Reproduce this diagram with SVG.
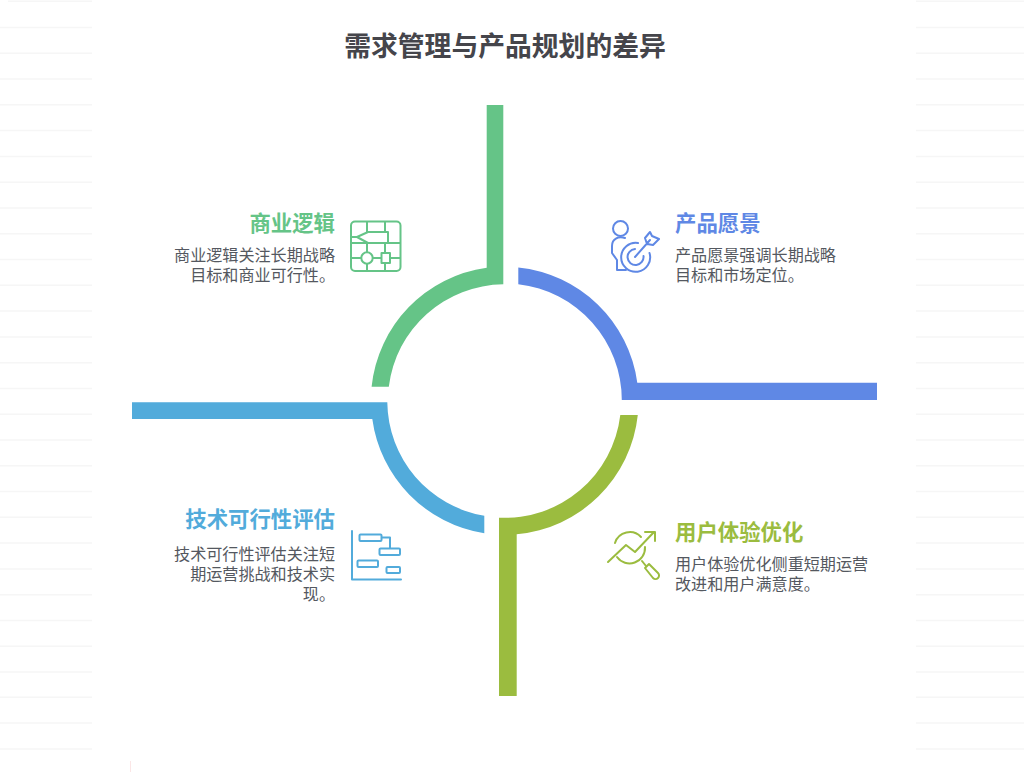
<svg xmlns="http://www.w3.org/2000/svg" width="1024" height="772" viewBox="0 0 1024 772">
<style>
text{font-family:"Noto Sans CJK SC","Noto Sans",sans-serif}
.t{font-size:26.8px;font-weight:700;fill:#45454b}
.h{font-size:21.4px;font-weight:700}
.b{font-size:16.1px;fill:#545860}
.e{text-anchor:end}
.bg{stroke:#f6f6f6;stroke-width:1.5;fill:none}
.ic{fill:none;stroke-width:2;stroke-linecap:round;stroke-linejoin:round}
.g{fill:#65c487}.bl{fill:#5f88e5}.li{fill:#9bbc3f}.cy{fill:#52abdb}
</style>
<rect width="1024" height="772" fill="#fff"/>
<path class="bg" d="M0 27.5H92M0 53.3H92M0 79H92M0 104.8H92M0 130.6H92M0 156.4H92M0 182.2H92M0 208H92M0 233.7H92M0 259.5H92M0 285.3H92M0 311H92M0 336.9H92M0 362.7H92M0 388.4H92M0 414.2H92M0 440H92M0 465.8H92M0 491.6H92M0 517.3H92M0 543H92M0 568.9H92M0 594.7H92M0 620.5H92M0 646.2H92M0 672H92M0 697.3H92M0 723H92M0 749H92M8 1.3H92"/>
<path class="bg" d="M916 27.5H1024M916 53.3H1024M916 79H1024M916 104.8H1024M916 130.6H1024M916 156.4H1024M916 182.2H1024M916 208H1024M916 233.7H1024M916 259.5H1024M916 285.3H1024M916 311H1024M916 336.9H1024M916 362.7H1024M916 388.4H1024M916 414.2H1024M916 440H1024M916 465.8H1024M916 491.6H1024M916 517.3H1024M916 543H1024M916 568.9H1024M916 594.7H1024M916 620.5H1024M916 646.2H1024M916 672H1024M916 697.3H1024M916 723H1024M916 749H1024M916 1.3H1024"/>
<path d="M130.5 761V772" stroke="#fbe6e6" stroke-width="1" fill="none"/>
<text class="t" x="505" y="56" text-anchor="middle">需求管理与产品规划的差异</text>
<g id="connectors">
<path class="g" d="M486.7 105H503.3V284.3A116.5 116.5 0 0 0 388.8 386.7H371.6A134 134 0 0 1 486.7 267.8Z"/>
<path class="bl" d="M518.3 267.5A134 134 0 0 1 637.3 382.7H877V400H621.8A116.5 116.5 0 0 0 518.3 284.3Z"/>
<path class="li" d="M637.8 415A134 134 0 0 1 516.7 534.3V696H499V517.7A116.5 116.5 0 0 0 620.3 415Z"/>
<path class="cy" d="M132 402.3H387.3A116.5 116.5 0 0 0 484.3 515.8V533.3A134 134 0 0 1 372.3 419H132Z"/>
</g>
<g id="node-business">
<text class="h e" x="335" y="231" fill="#65c487">商业逻辑</text>
<text class="b e" x="335" y="261">商业逻辑关注长期战略</text>
<text class="b e" x="335" y="281">目标和商业可行性。</text>
<g class="ic" stroke="#65c487">
<rect x="351" y="221.500" width="49.500" height="49.500" rx="4"/>
<path d="M367 222V232M385 222V232M351 237H357M351 243H368M388 243H400M367 243V252M385 243V253M351 258H361M373 258H381M390 258H400M367 264V271M385 263V271"/>
<path d="M357 237L368 232H388V243H368Z"/>
<circle cx="367" cy="258" r="5.700"/>
<rect x="381.500" y="253" width="8.500" height="10"/>
</g>
</g>
<g id="node-vision">
<text class="h" x="675" y="231" fill="#5f88e5">产品愿景</text>
<text class="b" x="675" y="261">产品愿景强调长期战略</text>
<text class="b" x="675" y="281">目标和市场定位。</text>
<g class="ic" stroke="#5f88e5">
<circle cx="620.500" cy="228.500" r="7.500"/>
<path d="M625 238C618 236 612 239 612 246V253L617 260V270H626"/>
<path d="M649.500 253A14.500 14.500 0 1 1 638 243"/>
<path d="M643.500 256A8 8 0 1 1 635 249"/>
<path d="M635 257L650 240M645 238L650 232L652 236L659 239L653 245L647 244Z"/>
</g>
</g>
<g id="node-ux">
<text class="h" x="675" y="540" fill="#9bbc3f">用户体验优化</text>
<text class="b" x="675" y="570">用户体验优化侧重短期运营</text>
<text class="b" x="675" y="590">改进和用户满意度。</text>
<g class="ic" stroke="#9bbc3f">
<path d="M608 562L626 545L635 552L654 532M645 532H655V541"/>
<path d="M615 543A15.500 15.500 0 0 1 641 537M645 547A15.500 15.500 0 0 1 617 557"/>
<path d="M642 561L646 566"/>
<path d="M645 568L649 564L658 573A3.500 3.500 0 0 1 653 578Z"/>
</g>
</g>
<g id="node-tech">
<text class="h e" x="335" y="527" fill="#52abdb">技术可行性评估</text>
<text class="b e" x="335" y="560">技术可行性评估关注短</text>
<text class="b e" x="335" y="580">期运营挑战和技术实</text>
<text class="b e" x="335" y="600">现。</text>
<g class="ic" stroke="#52abdb">
<path d="M352 531V579.500H401"/>
<rect x="359.500" y="534.500" width="22" height="6.500" rx="1"/>
<rect x="379.500" y="548.500" width="20.500" height="6.500" rx="1"/>
<rect x="357.500" y="560.500" width="20.500" height="6.500" rx="1"/>
<rect x="386.500" y="567" width="13.500" height="6" rx="1"/>
<path d="M382 537.500H390V548"/>
</g>
</g>
</svg>
